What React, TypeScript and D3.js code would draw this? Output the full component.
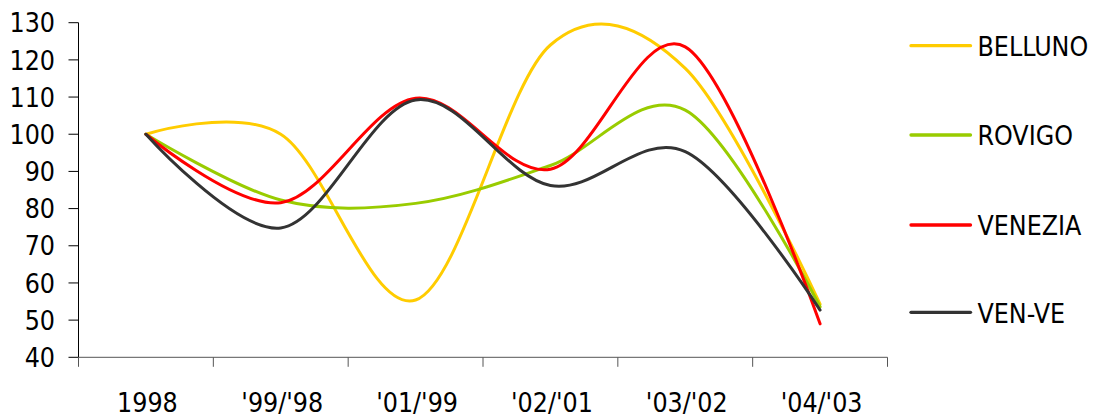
import React from "react";
import * as d3 from "d3";

const categories = ["1998", "'99/'98", "'01/'99", "'02/'01", "'03/'02", "'04/'03"];
const belluno = [100, 100, 55.4, 124, 117.7, 54.3];
const rovigo = [100, 82.3, 81.4, 91.6, 106.5, 53.6];
const venezia = [100, 81.6, 109.7, 90.6, 123.5, 49];
const venVe = [100, 74.8, 109.2, 86.2, 95.3, 52.7];
const yTicks = [40, 50, 60, 70, 80, 90, 100, 110, 120, 130];

const seriesList = [
  { name: "BELLUNO", values: belluno, color: "#FFCC00" },
  { name: "ROVIGO", values: rovigo, color: "#99CC00" },
  { name: "VENEZIA", values: venezia, color: "#FF0000" },
  { name: "VEN-VE", values: venVe, color: "#333333" },
];

const W = 1106;
const H = 418;
const left = 78.5;
const right = 887.5;
const top = 22.7;
const bottom = 357.3;
const FONT = "'DejaVu Sans Condensed', 'DejaVu Sans', sans-serif";

export default function App() {
  const band = d3.scaleBand<string>().domain(categories).range([left, right]).paddingInner(0).paddingOuter(0);
  const x = (c: string) => (band(c) as number) + band.bandwidth() / 2;
  const y = d3.scaleLinear().domain([40, 130]).range([bottom, top]);
  const line = d3
    .line<number>()
    .x((_, i) => x(categories[i]))
    .y((d) => y(d))
    .curve(d3.curveCardinal.tension(0));

  const boundaries = categories.map((c) => band(c) as number).concat([right]);
  const legendY = [45.7, 135, 225, 312.3];

  return (
    <svg
      width={W}
      height={H}
      style={{ position: "absolute", left: 0, top: 0, background: "#fff" }}
      fontFamily={FONT}
    >
      {/* y axis */}
      <line x1={left} x2={left} y1={top} y2={bottom} stroke="#000" strokeWidth={1} />
      {yTicks.map((t) => (
        <g key={t}>
          <line x1={left - 10} x2={left} y1={y(t)} y2={y(t)} stroke="#000" strokeWidth={1} />
          <text x={55} y={y(t) + 9.7} textAnchor="end" fontSize={26.5} fill="#000">
            {t}
          </text>
        </g>
      ))}
      {/* x axis */}
      <line x1={left} x2={right} y1={bottom} y2={bottom} stroke="#555" strokeWidth={1} />
      {boundaries.map((b, i) => (
        <line key={i} x1={b} x2={b} y1={bottom} y2={bottom + 9.5} stroke="#555" strokeWidth={1} />
      ))}
      {categories.map((c) => (
        <text key={c} x={x(c) + 1.5} y={411.5} textAnchor="middle" fontSize={26.5} fill="#000">
          {c}
        </text>
      ))}
      {/* series */}
      {seriesList.map((s) => (
        <path
          key={s.name}
          d={line(s.values) || ""}
          fill="none"
          stroke={s.color}
          strokeWidth={3}
          strokeLinejoin="round"
          strokeLinecap="round"
        />
      ))}
      {/* legend */}
      {seriesList.map((s, i) => (
        <g key={s.name}>
          <line x1={911} x2={970.5} y1={legendY[i]} y2={legendY[i]} stroke={s.color} strokeWidth={3.3} strokeLinecap="round" />
          <text x={977.5} y={legendY[i] + 10.3} fontSize={26.5} fill="#000">
            {s.name}
          </text>
        </g>
      ))}
    </svg>
  );
}
